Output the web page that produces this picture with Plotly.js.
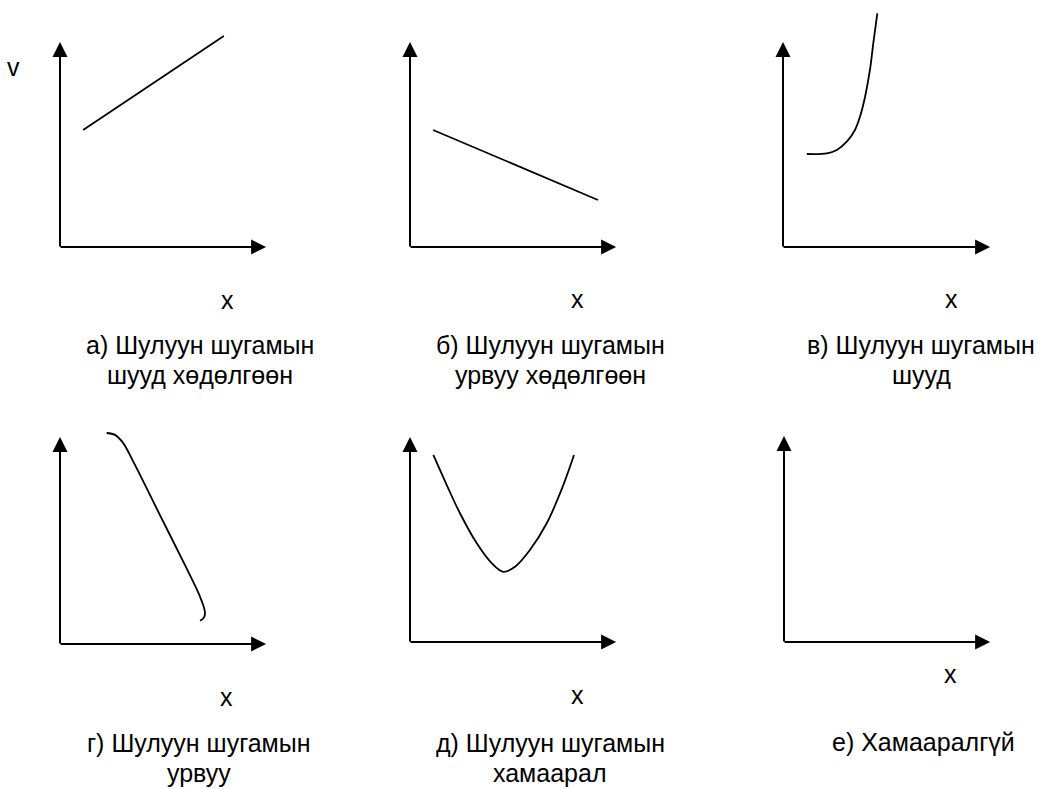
<!DOCTYPE html>
<html>
<head>
<meta charset="utf-8">
<script src="https://cdn.plot.ly/plotly-3.0.1.min.js"></script>
<style>
  html, body { margin: 0; padding: 0; background: #fff; }
  #chart { width: 1044px; height: 789px; }
</style>
</head>
<body>
<div id="chart"></div>
<script>
// ---- data: each panel uses units where 0 = origin and 10 = arrow tip ----
var lineA_x = [1.1, 7.8];
var lineA_v = [5.6, 10.1];

var lineB_x = [1.1, 8.95];
var lineB_v = [5.6, 2.25];

var curveC_x = [1.13, 2.08, 2.55, 3.02, 3.41, 3.65, 3.89, 4.12, 4.28, 4.47];
var curveC_v = [4.45, 4.48, 4.64, 5.04, 5.60, 6.24, 7.19, 8.47, 9.75, 11.18];

var curveG_x = [2.22, 2.62, 3.01, 3.49, 4.76, 6.03, 6.67, 6.90, 6.86, 6.67];
var curveG_v = [10.0, 9.91, 9.52, 8.64, 6.11, 3.58, 2.24, 1.53, 1.26, 1.10];

var curveD_x = [1.11, 1.75, 2.38, 3.18, 3.89, 4.44, 5.00, 5.71, 6.51, 7.22, 7.81];
var curveD_v = [8.95, 7.51, 6.16, 4.72, 3.77, 3.36, 3.60, 4.40, 5.68, 7.30, 8.95];

// caption lines per panel
var captions = [
  ['а) Шулуун шугамын', 'шууд хөдөлгөөн'],
  ['б) Шулуун шугамын', 'урвуу хөдөлгөөн'],
  ['в) Шулуун шугамын', 'шууд'],
  ['г) Шулуун шугамын', 'урвуу'],
  ['д) Шулуун шугамын', 'хамаарал'],
  ['е) Хамааралгүй']
];
var xLabel = 'x';
var vLabel = 'v';

// ---- layout geometry (pixels) ----
var W = 1044, H = 789;
var FONT = '"Liberation Sans", Arial, sans-serif';
var FS = 25;
var LINE_GAP = 30;

// origin, arrow tips and the cell each panel lives in: [left, right, top, bottom]
var panels = [
  { ox: 60,  oy: 247, tx: 270, ty: 38,  cell: [0, 348, 0, 280] },
  { ox: 410, oy: 247, tx: 620, ty: 38,  cell: [348, 696, 0, 280] },
  { ox: 783, oy: 247, tx: 994, ty: 38,  cell: [696, 1044, 0, 280] },
  { ox: 60,  oy: 644, tx: 270, ty: 433, cell: [0, 348, 400, 660] },
  { ox: 410, oy: 642, tx: 620, ty: 433, cell: [348, 696, 400, 660] },
  { ox: 784, oy: 642, tx: 994, ty: 432, cell: [696, 1044, 400, 660] }
];
// centre of the first caption line
var captionPos = [[200, 345], [550, 345], [921, 345], [199, 743], [550, 743], [923, 742]];
var xLabelPos = [[227, 300], [577, 299], [951, 299], [226, 697], [577, 695], [950, 674]];
var vLabelPos = [13, 67];

// which curve goes into which panel
var series = [
  { p: 0, x: lineA_x, y: lineA_v, shape: 'linear' },
  { p: 1, x: lineB_x, y: lineB_v, shape: 'linear' },
  { p: 2, x: curveC_x, y: curveC_v, shape: 'spline' },
  { p: 3, x: curveG_x, y: curveG_v, shape: 'spline' },
  { p: 4, x: curveD_x, y: curveD_v, shape: 'spline' }
];

var layout = {
  width: W,
  height: H,
  margin: { l: 0, r: 0, t: 0, b: 0 },
  paper_bgcolor: '#fff',
  plot_bgcolor: 'rgba(0,0,0,0)',
  showlegend: false,
  font: { family: FONT, color: '#000' },
  annotations: []
};

var HEAD_W = 2, HEAD_S = 1.5;           // arrowwidth * arrowsize = 3 -> 15px head
var headTip = 1.3 * HEAD_W * HEAD_S;     // how far the tip sits beyond the anchor

function sfx(i) { return i === 0 ? '' : String(i + 1); }

function textNote(txt, px, py) {
  return {
    xref: 'paper', yref: 'paper',
    x: px / W, y: 1 - py / H,
    xanchor: 'center', yanchor: 'middle',
    text: txt, showarrow: false,
    font: { family: FONT, size: FS, color: '#000' }
  };
}

panels.forEach(function(pn, i) {
  var s = sfx(i);
  var c = pn.cell;
  var kx = 10 / (pn.tx - pn.ox);
  var ky = 10 / (pn.oy - pn.ty);

  layout['xaxis' + s] = {
    domain: [c[0] / W, c[1] / W],
    range: [(c[0] - pn.ox) * kx, (c[1] - pn.ox) * kx],
    visible: false, fixedrange: true, anchor: 'y' + s
  };
  layout['yaxis' + s] = {
    domain: [1 - c[3] / H, 1 - c[2] / H],
    range: [(pn.oy - c[3]) * ky, (pn.oy - c[2]) * ky],
    visible: false, fixedrange: true, anchor: 'x' + s
  };

  // horizontal axis arrow
  layout.annotations.push({
    xref: 'x' + s, yref: 'y' + s, axref: 'x' + s, ayref: 'y' + s,
    x: 10 - headTip * kx, y: 0, ax: -1 * kx, ay: 0,
    text: '', showarrow: true, arrowhead: 2,
    arrowwidth: HEAD_W, arrowsize: HEAD_S, arrowcolor: '#000'
  });
  // vertical axis arrow
  layout.annotations.push({
    xref: 'x' + s, yref: 'y' + s, axref: 'x' + s, ayref: 'y' + s,
    x: 0, y: 10 - headTip * ky, ax: 0, ay: -1 * ky,
    text: '', showarrow: true, arrowhead: 2,
    arrowwidth: HEAD_W, arrowsize: HEAD_S, arrowcolor: '#000'
  });

  // x label and caption lines
  layout.annotations.push(textNote(xLabel, xLabelPos[i][0], xLabelPos[i][1]));
  captions[i].forEach(function(line, k) {
    layout.annotations.push(textNote(line, captionPos[i][0], captionPos[i][1] + k * LINE_GAP));
  });
});

// the single "v" label on the first panel
layout.annotations.push(textNote(vLabel, vLabelPos[0], vLabelPos[1]));

var traces = series.map(function(sr) {
  var s = sfx(sr.p);
  return {
    type: 'scatter', mode: 'lines',
    x: sr.x, y: sr.y,
    xaxis: 'x' + s, yaxis: 'y' + s,
    line: { color: '#000', width: 1.8, shape: sr.shape, smoothing: 1 },
    hoverinfo: 'skip'
  };
});

Plotly.newPlot('chart', traces, layout, { staticPlot: true, displayModeBar: false });
</script>
</body>
</html>
